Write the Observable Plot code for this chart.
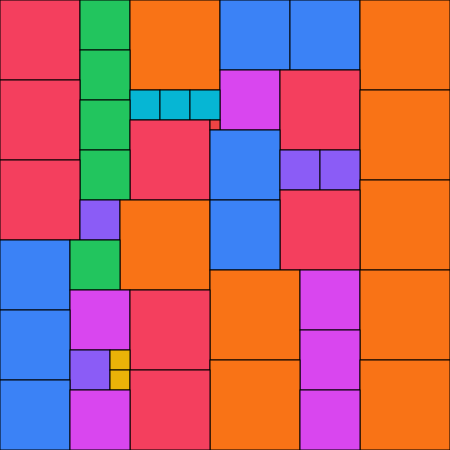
<!DOCTYPE html>
<html>
<head>
<meta charset="utf-8">
<style>
  html, body { margin: 0; padding: 0; background: #fff; }
  #chart svg { display: block; }
</style>
<script src="https://cdn.jsdelivr.net/npm/d3@7"></script>
<script src="https://cdn.jsdelivr.net/npm/@observablehq/plot@0.6"></script>
</head>
<body>
<div id="chart"></div>
<script>
// Square side lengths (n copies of an n×n square, n = 1..9), in reading order
const sides = [8,5,9,7,7,9,5,6,8,8,3,3,3,9,5,8,1,7,5,4,4,8,9,8,4,9,7,7,5,9,6,9,6,8,7,6,4,2,9,9,2,8,7,6,6];
const categories = [1,2,3,4,5,6,7,8,9];
const palette = ["#ef4444","#eab308","#06b6d4","#8b5cf6","#22c55e","#d946ef","#3b82f6","#f43f5e","#f97316"];

// Total side: sum of n^3 = (sum of n)^2
const N = d3.sum(categories);

// Pack each square at the first free cell (row-major)
const grid = Array.from({length: N}, () => new Array(N).fill(false));
function firstFree() {
  for (let r = 0; r < N; r++) for (let c = 0; c < N; c++) if (!grid[r][c]) return [r, c];
  return null;
}
const cells = sides.map(s => {
  const [r, c] = firstFree();
  for (let i = r; i < r + s; i++) for (let j = c; j < c + s; j++) grid[i][j] = true;
  return {x1: c, x2: c + s, y1: r, y2: r + s, side: s};
});

const chart = Plot.plot({
  width: 450,
  height: 450,
  margin: 0,
  x: {domain: [0, N], range: [0, 450], axis: null},
  y: {domain: [0, N], range: [0, 450], axis: null},
  color: {type: "ordinal", domain: categories, range: palette},
  marks: [
    Plot.rect(cells, {x1: "x1", x2: "x2", y1: "y1", y2: "y2", fill: "side", stroke: "#000", strokeWidth: 1})
  ]
});
document.getElementById("chart").appendChild(chart);
</script>
</body>
</html>
